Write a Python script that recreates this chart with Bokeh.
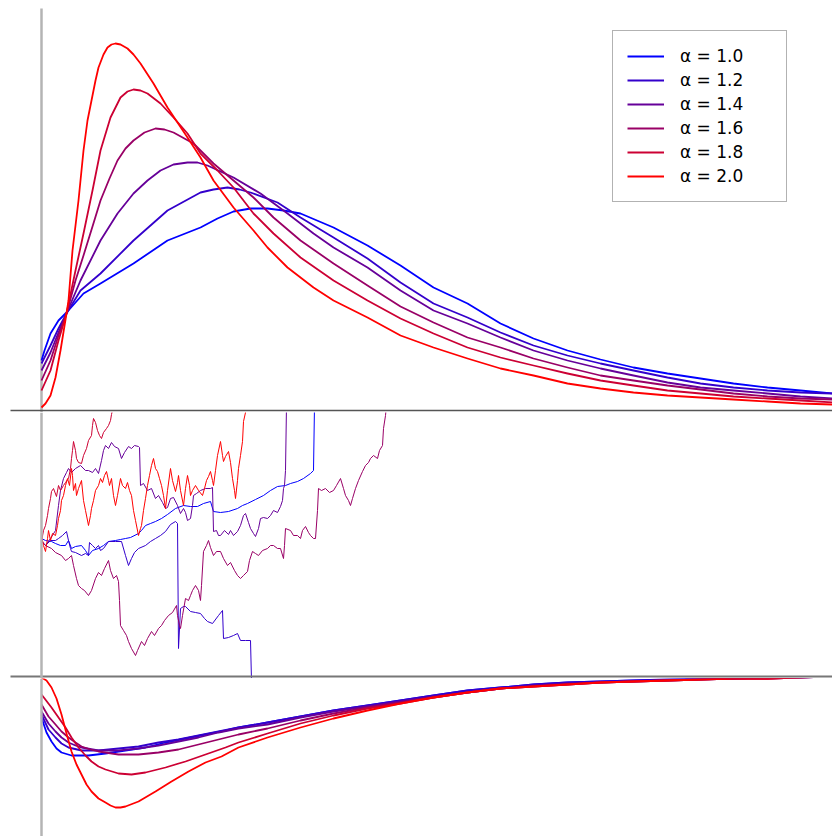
from bokeh.plotting import figure
from bokeh.models import Range1d, Span, Legend, LegendItem
from bokeh.layouts import column
from bokeh.embed import file_html
from bokeh.resources import INLINE

# ---------------- data ----------------
alphas = ["1.0", "1.2", "1.4", "1.6", "1.8", "2.0"]
labels = ["α = " + a for a in alphas]
colors = ["#0000FF", "#3300CC", "#660099", "#990066", "#CC0033", "#FF0000"]

# top panel: densities
dens_x_10 = [0, 0.03, 0.09, 0.17, 0.26, 0.42, 0.59, 0.92, 1.26, 1.59, 1.76, 1.92, 2.09, 2.26, 2.42, 2.59, 2.92, 3.26, 3.59, 3.92, 4.26, 4.59, 4.92, 5.26, 5.59, 5.92, 6.26, 6.59, 6.92, 7.26, 7.59, 7.91]
dens_y_10 = [0.050, 0.060, 0.077, 0.090, 0.099, 0.117, 0.127, 0.147, 0.170, 0.183, 0.192, 0.199, 0.202, 0.202, 0.200, 0.197, 0.183, 0.165, 0.145, 0.123, 0.107, 0.087, 0.072, 0.060, 0.051, 0.043, 0.037, 0.032, 0.027, 0.023, 0.020, 0.017]
dens_x_12 = [0, 0.09, 0.17, 0.25, 0.39, 0.59, 0.92, 1.26, 1.59, 1.72, 1.86, 1.98, 2.09, 2.36, 2.59, 2.92, 3.26, 3.59, 3.92, 4.26, 4.59, 4.92, 5.26, 5.59, 5.92, 6.26, 6.59, 6.92, 7.26, 7.59, 7.91]
dens_y_12 = [0.047, 0.065, 0.082, 0.097, 0.120, 0.137, 0.170, 0.200, 0.218, 0.221, 0.223, 0.221, 0.218, 0.208, 0.193, 0.173, 0.152, 0.128, 0.107, 0.093, 0.078, 0.065, 0.055, 0.047, 0.040, 0.033, 0.027, 0.023, 0.020, 0.018, 0.017]
dens_x_14 = [0, 0.09, 0.17, 0.25, 0.39, 0.59, 0.76, 0.92, 1.06, 1.19, 1.32, 1.46, 1.56, 1.66, 1.92, 2.19, 2.46, 2.72, 2.92, 3.26, 3.59, 3.92, 4.26, 4.59, 4.92, 5.26, 5.59, 5.92, 6.26, 6.59, 6.92, 7.26, 7.59, 7.91]
dens_y_14 = [0.040, 0.058, 0.078, 0.097, 0.130, 0.170, 0.197, 0.217, 0.230, 0.240, 0.246, 0.248, 0.248, 0.245, 0.233, 0.217, 0.197, 0.177, 0.163, 0.143, 0.120, 0.100, 0.087, 0.073, 0.060, 0.050, 0.042, 0.035, 0.028, 0.023, 0.020, 0.017, 0.014, 0.012]
dens_x_16 = [0, 0.09, 0.17, 0.25, 0.34, 0.42, 0.51, 0.59, 0.68, 0.76, 0.84, 0.92, 1.03, 1.14, 1.23, 1.32, 1.52, 1.72, 1.92, 2.12, 2.32, 2.59, 2.92, 3.26, 3.59, 3.92, 4.26, 4.59, 4.92, 5.26, 5.59, 5.92, 6.26, 6.59, 6.92, 7.26, 7.59, 7.91]
dens_y_16 = [0.030, 0.050, 0.075, 0.097, 0.130, 0.155, 0.184, 0.210, 0.232, 0.250, 0.262, 0.270, 0.278, 0.282, 0.281, 0.278, 0.267, 0.247, 0.230, 0.213, 0.193, 0.170, 0.147, 0.125, 0.104, 0.088, 0.073, 0.063, 0.052, 0.043, 0.035, 0.030, 0.025, 0.021, 0.017, 0.014, 0.012, 0.011]
dens_x_18 = [0, 0.09, 0.17, 0.25, 0.34, 0.42, 0.51, 0.59, 0.69, 0.79, 0.86, 0.92, 0.99, 1.06, 1.19, 1.32, 1.46, 1.59, 1.76, 1.92, 2.12, 2.32, 2.59, 2.92, 3.26, 3.59, 3.92, 4.26, 4.59, 4.92, 5.26, 5.59, 5.92, 6.26, 6.59, 6.92, 7.26, 7.59, 7.91]
dens_y_18 = [0.020, 0.040, 0.070, 0.097, 0.140, 0.177, 0.220, 0.260, 0.293, 0.313, 0.319, 0.321, 0.320, 0.317, 0.307, 0.293, 0.277, 0.257, 0.240, 0.223, 0.197, 0.177, 0.153, 0.130, 0.110, 0.092, 0.077, 0.063, 0.053, 0.045, 0.037, 0.030, 0.025, 0.020, 0.017, 0.014, 0.012, 0.010, 0.008]
dens_x_20 = [0, 0.04, 0.09, 0.14, 0.19, 0.25, 0.27, 0.31, 0.37, 0.42, 0.46, 0.50, 0.54, 0.57, 0.62, 0.66, 0.70, 0.74, 0.79, 0.86, 0.92, 0.99, 1.12, 1.26, 1.46, 1.59, 1.72, 1.92, 2.12, 2.26, 2.46, 2.72, 2.92, 3.26, 3.59, 3.92, 4.26, 4.59, 4.92, 5.26, 5.59, 5.92, 6.26, 6.59, 6.92, 7.26, 7.59, 7.91]
dens_y_20 = [0.003, 0.007, 0.015, 0.033, 0.060, 0.097, 0.110, 0.160, 0.210, 0.260, 0.290, 0.310, 0.330, 0.343, 0.356, 0.363, 0.366, 0.367, 0.366, 0.362, 0.356, 0.347, 0.327, 0.303, 0.273, 0.253, 0.230, 0.203, 0.180, 0.163, 0.143, 0.123, 0.110, 0.093, 0.075, 0.063, 0.052, 0.042, 0.035, 0.027, 0.022, 0.018, 0.015, 0.013, 0.011, 0.009, 0.007, 0.006]

# middle panel: sample paths
path_x_10 = [0.00, 0.04, 0.10, 0.14, 0.19, 0.24, 0.27, 0.30, 0.34, 0.40, 0.44, 0.47, 0.51, 0.57, 0.62, 0.67, 0.74, 0.79, 0.84, 0.89, 0.97, 1.00, 1.04, 1.09, 1.14, 1.20, 1.26, 1.34, 1.42, 1.49, 1.56, 1.62, 1.69, 1.72, 1.79, 1.87, 1.96, 2.01, 2.06, 2.14, 2.22, 2.29, 2.36, 2.44, 2.49, 2.56, 2.62, 2.69, 2.72, 2.73]
path_y_10 = [0.05, 0.03, 0.02, 0.00, -0.02, -0.02, 0.03, -0.05, -0.03, -0.02, -0.07, -0.12, -0.07, -0.05, -0.02, 0.02, 0.03, 0.04, 0.05, 0.06, 0.10, 0.13, 0.18, 0.20, 0.22, 0.25, 0.29, 0.35, 0.38, 0.37, 0.37, 0.40, 0.42, 0.32, 0.31, 0.32, 0.35, 0.38, 0.40, 0.44, 0.48, 0.53, 0.57, 0.58, 0.60, 0.62, 0.65, 0.70, 0.73, 1.38]
path_x_12 = [0.00, 0.04, 0.09, 0.14, 0.17, 0.21, 0.25, 0.27, 0.29, 0.30, 0.34, 0.40, 0.44, 0.47, 0.48, 0.51, 0.54, 0.57, 0.59, 0.62, 0.67, 0.74, 0.80, 0.84, 0.87, 0.90, 0.93, 0.97, 1.04, 1.09, 1.14, 1.19, 1.24, 1.29, 1.34, 1.36, 1.37, 1.39, 1.42, 1.44, 1.49, 1.54, 1.59, 1.63, 1.66, 1.71, 1.77, 1.81, 1.82, 1.87, 1.92, 1.96, 1.99, 2.04, 2.09, 2.10]
path_y_12 = [0.02, -0.02, 0.03, 0.03, 0.05, 0.08, 0.12, 0.03, -0.05, -0.08, -0.09, -0.12, -0.10, -0.12, 0.01, -0.02, -0.05, -0.02, -0.07, -0.05, 0.02, 0.02, 0.02, -0.12, -0.22, -0.15, -0.09, -0.05, -0.02, 0.02, 0.05, 0.08, 0.12, 0.19, 0.22, 0.20, -1.05, -0.65, -0.63, -0.63, -0.68, -0.69, -0.70, -0.75, -0.78, -0.80, -0.72, -0.67, -0.95, -0.94, -0.92, -0.90, -0.97, -0.97, -0.97, -1.37]
path_x_14 = [0.00, 0.04, 0.09, 0.14, 0.17, 0.19, 0.22, 0.25, 0.27, 0.30, 0.34, 0.39, 0.44, 0.47, 0.51, 0.54, 0.57, 0.60, 0.62, 0.64, 0.67, 0.70, 0.73, 0.77, 0.80, 0.83, 0.87, 0.90, 0.93, 0.97, 0.98, 0.99, 1.02, 1.06, 1.10, 1.14, 1.17, 1.21, 1.24, 1.26, 1.29, 1.32, 1.36, 1.39, 1.42, 1.44, 1.46, 1.49, 1.51, 1.52, 1.55, 1.59, 1.64, 1.69, 1.71, 1.72, 1.75, 1.77, 1.79, 1.83, 1.87, 1.89, 1.92, 1.96, 1.99, 2.02, 2.04, 2.07, 2.09, 2.12, 2.14, 2.17, 2.19, 2.22, 2.26, 2.29, 2.32, 2.36, 2.39, 2.41, 2.42, 2.43, 2.44, 2.45]
path_y_14 = [0.03, -0.02, 0.05, 0.13, 0.38, 0.53, 0.65, 0.71, 0.75, 0.71, 0.75, 0.78, 0.73, 0.73, 0.71, 0.75, 0.70, 0.83, 0.93, 0.98, 0.95, 1.01, 0.97, 0.95, 0.85, 0.91, 0.97, 0.95, 0.98, 0.97, 0.96, 0.58, 0.60, 0.53, 0.55, 0.45, 0.48, 0.41, 0.35, 0.36, 0.45, 0.46, 0.38, 0.30, 0.35, 0.31, 0.23, 0.25, 0.38, 0.48, 0.50, 0.53, 0.55, 0.55, 0.56, 0.12, 0.13, 0.08, 0.08, 0.13, 0.09, 0.13, 0.08, 0.12, 0.18, 0.28, 0.30, 0.21, 0.15, 0.10, 0.07, 0.15, 0.25, 0.26, 0.25, 0.28, 0.33, 0.31, 0.37, 0.43, 0.55, 0.58, 0.73, 1.38]
path_x_16 = [0.00, 0.04, 0.10, 0.14, 0.20, 0.24, 0.27, 0.30, 0.32, 0.35, 0.37, 0.40, 0.43, 0.47, 0.50, 0.54, 0.57, 0.60, 0.63, 0.67, 0.69, 0.72, 0.75, 0.77, 0.78, 0.79, 0.82, 0.85, 0.87, 0.90, 0.94, 0.96, 1.00, 1.03, 1.06, 1.10, 1.13, 1.17, 1.20, 1.23, 1.27, 1.31, 1.35, 1.36, 1.38, 1.39, 1.41, 1.44, 1.47, 1.49, 1.51, 1.54, 1.57, 1.59, 1.60, 1.62, 1.65, 1.67, 1.69, 1.72, 1.75, 1.79, 1.82, 1.86, 1.89, 1.93, 1.96, 1.99, 2.02, 2.06, 2.08, 2.11, 2.14, 2.17, 2.21, 2.26, 2.29, 2.32, 2.36, 2.39, 2.42, 2.43, 2.44, 2.49, 2.52, 2.56, 2.59, 2.61, 2.64, 2.67, 2.69, 2.72, 2.74, 2.76, 2.77, 2.80, 2.84, 2.88, 2.92, 2.95, 2.99, 3.02, 3.04, 3.07, 3.09, 3.11, 3.14, 3.17, 3.21, 3.24, 3.27, 3.29, 3.32, 3.36, 3.38, 3.41, 3.42, 3.44, 3.45]
path_y_16 = [0.02, -0.02, -0.05, -0.09, -0.12, -0.17, -0.15, -0.12, -0.22, -0.35, -0.42, -0.45, -0.47, -0.52, -0.47, -0.35, -0.29, -0.32, -0.25, -0.17, -0.27, -0.35, -0.32, -0.38, -0.57, -0.82, -0.87, -0.92, -0.98, -1.05, -1.12, -1.07, -0.98, -1.02, -0.95, -0.88, -0.92, -0.85, -0.82, -0.77, -0.72, -0.69, -0.62, -0.72, -0.82, -0.85, -0.72, -0.55, -0.57, -0.52, -0.47, -0.42, -0.47, -0.57, -0.42, -0.08, -0.02, 0.03, -0.04, -0.12, -0.08, -0.08, -0.15, -0.22, -0.19, -0.27, -0.32, -0.35, -0.32, -0.28, -0.17, -0.08, -0.10, -0.12, -0.07, -0.05, -0.02, -0.02, -0.05, -0.05, -0.15, -0.02, 0.15, 0.13, 0.08, 0.08, 0.05, 0.13, 0.17, 0.11, 0.08, 0.05, 0.05, 0.33, 0.55, 0.53, 0.55, 0.51, 0.53, 0.58, 0.65, 0.55, 0.48, 0.43, 0.38, 0.45, 0.55, 0.63, 0.72, 0.78, 0.81, 0.85, 0.88, 0.85, 0.93, 0.98, 1.15, 1.28, 1.38]
path_x_18 = [0.00, 0.02, 0.04, 0.06, 0.07, 0.09, 0.10, 0.12, 0.15, 0.17, 0.19, 0.22, 0.24, 0.27, 0.29, 0.30, 0.31, 0.32, 0.34, 0.35, 0.37, 0.40, 0.42, 0.45, 0.47, 0.50, 0.51, 0.52, 0.54, 0.56, 0.58, 0.60, 0.62, 0.65, 0.67, 0.69, 0.70, 0.72]
path_y_18 = [0.02, 0.13, 0.18, 0.28, 0.35, 0.45, 0.52, 0.55, 0.47, 0.58, 0.53, 0.58, 0.61, 0.65, 0.75, 0.85, 0.93, 1.02, 0.93, 0.85, 0.81, 0.80, 0.88, 0.95, 1.03, 1.08, 1.18, 1.25, 1.21, 1.13, 1.08, 1.05, 1.11, 1.15, 1.18, 1.23, 1.29, 1.38]
path_x_20 = [0.00, 0.02, 0.04, 0.06, 0.07, 0.09, 0.11, 0.14, 0.16, 0.17, 0.19, 0.20, 0.22, 0.24, 0.26, 0.28, 0.30, 0.31, 0.32, 0.34, 0.35, 0.37, 0.40, 0.42, 0.44, 0.47, 0.49, 0.50, 0.52, 0.54, 0.57, 0.59, 0.61, 0.63, 0.65, 0.67, 0.68, 0.70, 0.72, 0.74, 0.76, 0.79, 0.81, 0.84, 0.86, 0.88, 0.90, 0.92, 0.94, 0.97, 0.99, 1.00, 1.02, 1.04, 1.06, 1.08, 1.10, 1.12, 1.14, 1.16, 1.18, 1.20, 1.22, 1.24, 1.26, 1.29, 1.31, 1.34, 1.36, 1.37, 1.39, 1.42, 1.44, 1.46, 1.48, 1.49, 1.51, 1.54, 1.57, 1.61, 1.63, 1.65, 1.67, 1.69, 1.71, 1.72, 1.74, 1.76, 1.79, 1.81, 1.82, 1.84, 1.87, 1.89, 1.91, 1.93, 1.94, 1.96, 1.97, 1.99, 2.01, 2.02, 2.04, 2.05]
path_y_20 = [0.08, -0.02, -0.08, 0.05, 0.13, 0.03, 0.10, 0.08, 0.18, 0.25, 0.33, 0.43, 0.48, 0.58, 0.65, 0.58, 0.75, 0.68, 0.53, 0.60, 0.48, 0.55, 0.63, 0.43, 0.33, 0.18, 0.28, 0.35, 0.43, 0.53, 0.58, 0.65, 0.61, 0.68, 0.72, 0.63, 0.58, 0.65, 0.48, 0.38, 0.48, 0.65, 0.58, 0.55, 0.61, 0.53, 0.48, 0.33, 0.23, 0.08, 0.15, 0.18, 0.33, 0.45, 0.58, 0.68, 0.78, 0.85, 0.75, 0.72, 0.65, 0.58, 0.48, 0.35, 0.53, 0.75, 0.63, 0.52, 0.61, 0.68, 0.53, 0.38, 0.55, 0.68, 0.58, 0.48, 0.53, 0.58, 0.53, 0.48, 0.55, 0.63, 0.67, 0.72, 0.63, 0.58, 0.73, 0.88, 1.02, 0.88, 0.82, 0.87, 0.92, 0.81, 0.65, 0.53, 0.45, 0.63, 0.75, 0.88, 1.02, 1.22, 1.31, 1.38]

# bottom panel
low_x_10 = [0, 0.05, 0.10, 0.15, 0.20, 0.30, 0.47, 0.64, 0.84, 1.04, 1.24, 1.44, 1.64, 1.84, 1.97, 2.26, 2.59, 2.92, 3.26, 3.59, 3.92, 4.26, 4.59, 4.92, 5.26, 5.59, 5.92, 6.26, 6.59, 6.92, 7.26, 7.59, 7.91]
low_y_10 = [-0.041, -0.056, -0.065, -0.072, -0.076, -0.079, -0.079, -0.077, -0.074, -0.071, -0.066, -0.062, -0.058, -0.054, -0.051, -0.046, -0.040, -0.034, -0.029, -0.024, -0.019, -0.014, -0.011, -0.008, -0.006, -0.005, -0.004, -0.003, -0.002, -0.002, -0.001, -0.001, 0.000]
low_x_12 = [0, 0.07, 0.14, 0.20, 0.27, 0.40, 0.57, 0.77, 0.97, 1.17, 1.37, 1.57, 1.77, 1.97, 2.26, 2.59, 2.92, 3.26, 3.59, 3.92, 4.26, 4.59, 4.92, 5.26, 5.59, 5.92, 6.26, 6.59, 6.92, 7.26, 7.59, 7.91]
low_y_12 = [-0.038, -0.053, -0.061, -0.067, -0.071, -0.074, -0.074, -0.072, -0.070, -0.066, -0.063, -0.059, -0.055, -0.051, -0.046, -0.040, -0.034, -0.029, -0.024, -0.019, -0.014, -0.011, -0.008, -0.006, -0.005, -0.004, -0.003, -0.002, -0.002, -0.001, -0.001, 0.000]
low_x_14 = [0, 0.07, 0.14, 0.20, 0.27, 0.34, 0.40, 0.57, 0.77, 0.97, 1.17, 1.37, 1.57, 1.77, 1.97, 2.26, 2.59, 2.92, 3.26, 3.59, 3.92, 4.26, 4.59, 4.92, 5.26, 5.59, 5.92, 6.26, 6.59, 6.92, 7.26, 7.59, 7.91]
low_y_14 = [-0.035, -0.047, -0.055, -0.061, -0.066, -0.069, -0.071, -0.074, -0.074, -0.072, -0.069, -0.065, -0.061, -0.056, -0.052, -0.048, -0.041, -0.035, -0.030, -0.025, -0.020, -0.016, -0.012, -0.009, -0.007, -0.006, -0.005, -0.004, -0.003, -0.002, -0.002, -0.001, 0.000]
low_x_16 = [0, 0.07, 0.14, 0.20, 0.27, 0.34, 0.40, 0.49, 0.57, 0.77, 0.97, 1.17, 1.37, 1.57, 1.77, 1.97, 2.26, 2.59, 2.92, 3.26, 3.59, 3.92, 4.26, 4.59, 4.92, 5.26, 5.59, 5.92, 6.26, 6.59, 6.92, 7.26, 7.59, 7.91]
low_y_16 = [-0.028, -0.040, -0.048, -0.055, -0.061, -0.066, -0.070, -0.073, -0.075, -0.078, -0.078, -0.076, -0.073, -0.068, -0.063, -0.058, -0.052, -0.044, -0.037, -0.031, -0.026, -0.021, -0.016, -0.012, -0.010, -0.008, -0.006, -0.005, -0.004, -0.003, -0.002, -0.002, -0.001, 0.000]
low_x_18 = [0, 0.10, 0.17, 0.24, 0.30, 0.37, 0.44, 0.50, 0.57, 0.64, 0.77, 0.90, 1.04, 1.24, 1.44, 1.64, 1.84, 1.97, 2.26, 2.59, 2.92, 3.26, 3.59, 3.92, 4.26, 4.59, 4.92, 5.26, 5.59, 5.92, 6.26, 6.59, 6.92, 7.26, 7.59, 7.91]
low_y_18 = [-0.018, -0.031, -0.041, -0.051, -0.061, -0.071, -0.079, -0.085, -0.090, -0.093, -0.097, -0.098, -0.096, -0.091, -0.085, -0.078, -0.071, -0.066, -0.057, -0.047, -0.039, -0.032, -0.027, -0.021, -0.016, -0.012, -0.010, -0.008, -0.006, -0.005, -0.004, -0.003, -0.002, -0.002, -0.001, 0.000]
low_x_20 = [0, 0.05, 0.10, 0.15, 0.20, 0.25, 0.30, 0.35, 0.40, 0.45, 0.50, 0.57, 0.64, 0.69, 0.74, 0.79, 0.84, 0.97, 1.14, 1.30, 1.47, 1.64, 1.80, 1.97, 2.26, 2.59, 2.92, 3.26, 3.59, 3.92, 4.26, 4.59, 4.92, 5.26, 5.59, 5.92, 6.26, 6.59, 6.92, 7.26, 7.59, 7.91]
low_y_20 = [-0.001, -0.004, -0.011, -0.022, -0.038, -0.057, -0.075, -0.088, -0.098, -0.108, -0.115, -0.122, -0.126, -0.129, -0.131, -0.131, -0.130, -0.125, -0.115, -0.105, -0.095, -0.086, -0.080, -0.071, -0.061, -0.051, -0.042, -0.034, -0.027, -0.021, -0.016, -0.012, -0.010, -0.008, -0.006, -0.005, -0.004, -0.003, -0.002, -0.002, -0.001, 0.000]

dens = [(dens_x_10, dens_y_10), (dens_x_12, dens_y_12), (dens_x_14, dens_y_14),
        (dens_x_16, dens_y_16), (dens_x_18, dens_y_18), (dens_x_20, dens_y_20)]
paths = [(path_x_10, path_y_10), (path_x_12, path_y_12), (path_x_14, path_y_14),
         (path_x_16, path_y_16), (path_x_18, path_y_18), (path_x_20, path_y_20)]
lows = [(low_x_10, low_y_10), (low_x_12, low_y_12), (low_x_14, low_y_14),
        (low_x_16, low_y_16), (low_x_18, low_y_18), (low_x_20, low_y_20)]

X0, X1 = -0.41, 7.91
AXIS_GRAY = "#b4b4b4"


def make_fig(h, y0, y1):
    f = figure(width=832, height=h, x_range=Range1d(X0, X1), y_range=Range1d(y0, y1),
               output_backend="svg", toolbar_location=None, min_border=0,
               x_axis_location=None, y_axis_location=None)
    f.grid.visible = False
    f.outline_line_color = None
    f.background_fill_color = "white"
    f.border_fill_color = "white"
    return f


# ---------------- top ----------------
top = make_fig(412, -0.002, 0.410)
top.segment(x0=[0], y0=[-0.002], x1=[0], y1=[0.402], line_color=AXIS_GRAY, line_width=2.5)
top.segment(x0=[-0.31], y0=[0], x1=[X1], y1=[0], line_color="#555555", line_width=1.5)
items = []
for (xs, ys), c, lab in zip(dens, colors, labels):
    r = top.line(xs, ys, line_color=c, line_width=1.8, line_join="round")
    items.append(LegendItem(label=lab, renderers=[r]))
leg = Legend(items=items, location=(612, 210), padding=14, spacing=2, margin=0,
             glyph_width=37, glyph_height=22, label_height=22, label_standoff=16,
             label_width=92, label_text_font="DejaVu Sans", label_text_font_size="17px",
             label_text_color="black", border_line_color="#666666", border_line_width=1.5,
             background_fill_color="white", background_fill_alpha=1.0)
top.add_layout(leg, "center")

# ---------------- middle ----------------
mid = make_fig(266, -1.35, 1.31)
mid.add_layout(Span(location=0, dimension="height", line_color=AXIS_GRAY, line_width=2.5))
for (xs, ys), c in zip(paths, colors):
    mid.line(xs, ys, line_color=c, line_width=1.0)
mid.segment(x0=[-0.31], y0=[-1.33], x1=[X1], y1=[-1.33], line_color="#777777", line_width=2)

# ---------------- bottom ----------------
bot = make_fig(158, -0.160, -0.002)
bot.add_layout(Span(location=0, dimension="height", line_color=AXIS_GRAY, line_width=2.5))
for (xs, ys), c in zip(lows, colors):
    bot.line(xs, ys, line_color=c, line_width=1.8, line_join="round")

layout = column(top, mid, bot, spacing=0)
open("out.html", "w").write(file_html(layout, INLINE))
